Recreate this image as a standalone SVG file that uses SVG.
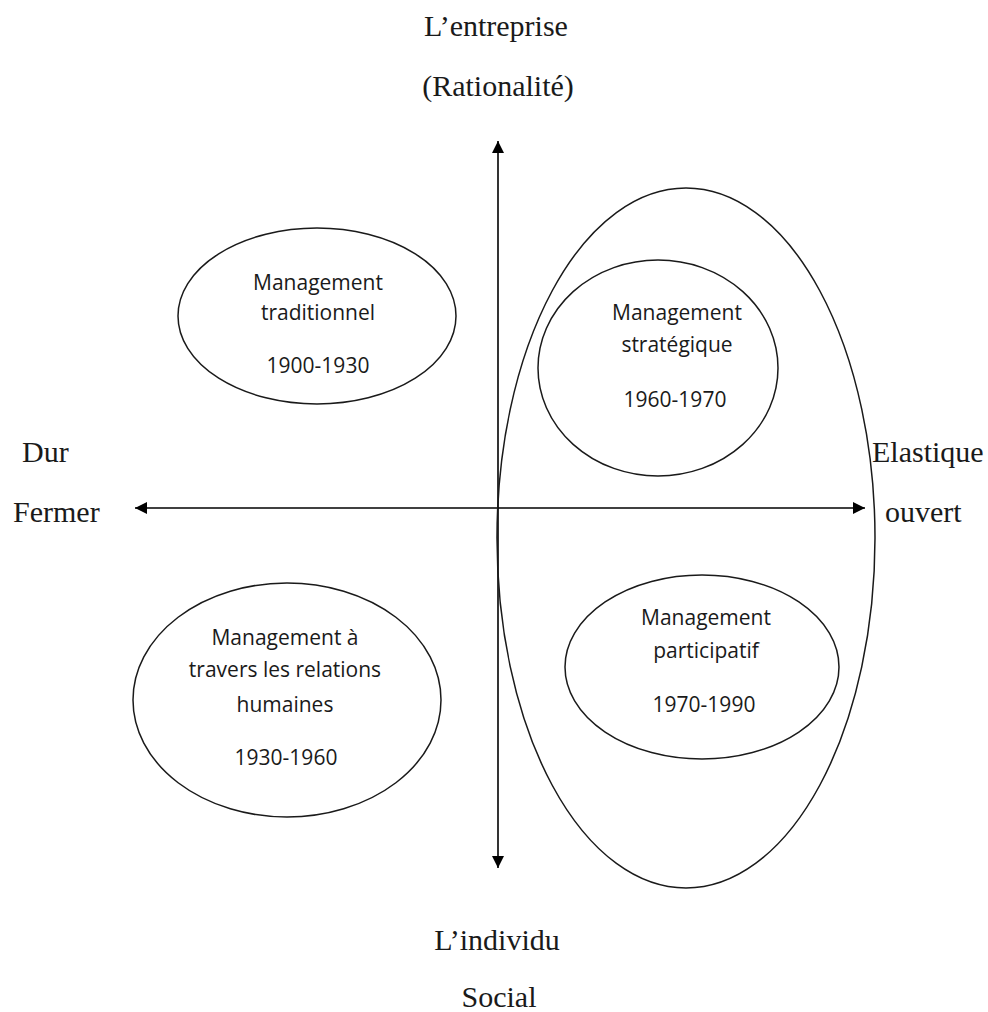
<svg xmlns="http://www.w3.org/2000/svg" width="988" height="1012" viewBox="0 0 988 1012">
<style>
.ser{font-family:"Liberation Serif","Times New Roman",serif;font-size:30px;fill:#1a1a1a}
.san{font-family:"Open Sans","Noto Sans",sans-serif;font-size:21px;fill:#1a1a1a;text-anchor:middle}
.el{fill:none;stroke:#1a1a1a;stroke-width:1.5}
.ax{stroke:#000;stroke-width:1.6;fill:none}
</style>
<defs>
<marker id="ah" viewBox="0 0 12 12" refX="12" refY="6" markerWidth="12" markerHeight="12" markerUnits="userSpaceOnUse" orient="auto">
<path d="M0,0 L12,6 L0,12 z" fill="#000"/>
</marker>
</defs>
<rect width="988" height="1012" fill="#fff"/>
<g id="labels">
<text class="ser" x="496" y="36" text-anchor="middle">L’entreprise</text>
<text class="ser" x="498" y="96" text-anchor="middle">(Rationalité)</text>
<text class="ser" x="22" y="462">Dur</text>
<text class="ser" x="13" y="522">Fermer</text>
<text class="ser" x="872" y="462">Elastique</text>
<text class="ser" x="885" y="522">ouvert</text>
<text class="ser" x="497" y="950" text-anchor="middle">L’individu</text>
<text class="ser" x="499" y="1007" text-anchor="middle">Social</text>
</g>
<g id="connectors">
<line class="ax" x1="498" y1="500" x2="498" y2="141" marker-end="url(#ah)"/>
<line class="ax" x1="498" y1="500" x2="498" y2="868" marker-end="url(#ah)"/>
<line class="ax" x1="498" y1="508" x2="135" y2="508" marker-end="url(#ah)"/>
<line class="ax" x1="498" y1="508" x2="865" y2="508" marker-end="url(#ah)"/>
</g>
<g id="open-group">
<ellipse class="el" cx="686" cy="538" rx="189" ry="350"/>
</g>
<g id="traditionnel">
<ellipse class="el" cx="317" cy="316" rx="139" ry="88"/>
<text class="san" x="318" y="290">Management</text>
<text class="san" x="318" y="320">traditionnel</text>
<text class="san" x="318" y="373">1900-1930</text>
</g>
<g id="strategique">
<ellipse class="el" cx="658" cy="368" rx="120" ry="108"/>
<text class="san" x="677" y="320">Management</text>
<text class="san" x="677" y="352">stratégique</text>
<text class="san" x="675" y="407">1960-1970</text>
</g>
<g id="relations-humaines">
<ellipse class="el" cx="287" cy="700" rx="154" ry="117"/>
<text class="san" x="285" y="645">Management à</text>
<text class="san" x="285" y="677">travers les relations</text>
<text class="san" x="285" y="712">humaines</text>
<text class="san" x="286" y="765">1930-1960</text>
</g>
<g id="participatif">
<ellipse class="el" cx="702" cy="667" rx="137" ry="92"/>
<text class="san" x="706" y="625">Management</text>
<text class="san" x="706" y="658">participatif</text>
<text class="san" x="704" y="712">1970-1990</text>
</g>
</svg>
